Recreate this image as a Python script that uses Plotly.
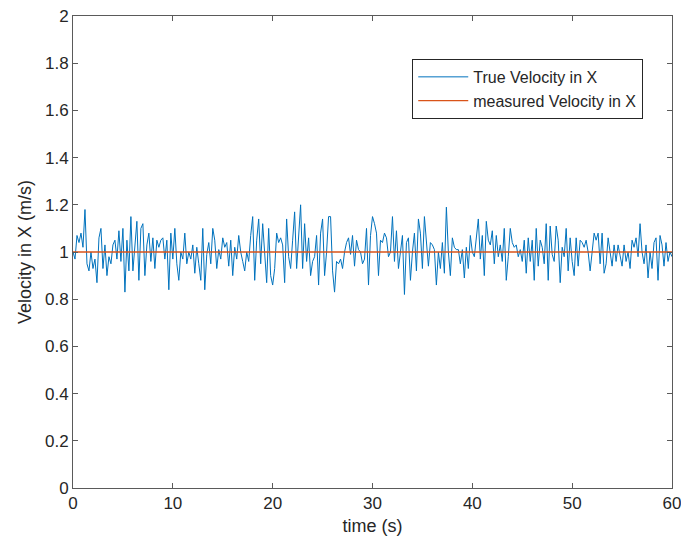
import numpy as np
import plotly.graph_objects as go

# True velocity samples (0.2 s spacing)
velocity = [
    1.00, 0.97, 1.07, 1.04, 1.08, 1.02, 1.18, 0.95, 0.92, 1.00,
    0.93, 0.97, 0.87, 1.06, 1.10, 0.93, 1.03, 0.90, 0.98, 0.95,
    1.03, 1.05, 0.97, 1.09, 0.96, 1.10, 0.83, 1.05, 0.92, 1.15,
    0.92, 1.03, 1.13, 0.88, 1.10, 1.12, 0.90, 1.03, 1.08, 0.96,
    1.06, 0.93, 1.05, 1.02, 1.05, 1.06, 0.97, 1.05, 0.84, 1.08,
    0.97,
    1.10, 0.95, 0.88, 1.00, 0.97, 1.08, 0.95, 1.00, 0.97, 1.03,
    0.91, 1.02, 0.95, 0.88, 1.10, 0.84, 0.99, 1.04, 0.95, 1.10,
    1.05, 0.93, 1.01, 0.97, 1.06, 1.02, 1.04, 0.94, 1.05, 0.90,
    1.02, 0.97, 1.07, 1.00, 0.96, 0.92, 1.00, 0.96, 1.07, 1.15,
    0.88, 1.05, 1.14, 0.95, 1.12, 1.00, 0.87, 1.10, 0.90, 0.86,
    0.93, 1.08, 1.04, 1.06, 1.03, 0.87, 1.14, 0.98, 0.93, 1.05,
    1.17, 0.93, 1.08, 1.20, 0.93, 1.12, 0.96, 1.06, 0.90, 0.96,
    0.98, 1.07, 0.86, 1.08, 1.14, 0.90, 1.00, 1.15, 1.15, 0.92,
    0.83, 0.96, 0.95, 0.97, 0.93, 1.00, 1.04, 1.06, 0.99, 1.07,
    0.94, 1.05, 1.01, 1.00, 0.95, 0.97, 1.10, 0.86, 1.07, 1.15,
    1.12, 1.08, 0.90, 1.05, 1.04, 1.08, 1.06, 0.98, 1.00, 1.15,
    0.96, 1.09, 0.93, 1.00, 1.07, 0.82, 1.04, 1.06, 0.88, 1.00,
    1.08, 0.92, 1.14, 1.08, 0.93, 1.15, 1.05, 0.94, 1.04, 1.03,
    1.01, 0.86, 1.00, 0.93, 1.04, 0.91, 1.19, 1.00, 0.90, 1.06,
    1.02, 1.01, 1.01, 0.95, 1.01, 0.89, 1.02, 0.93, 1.07, 1.00,
    0.98, 1.06, 1.14, 0.97, 1.07, 0.90, 1.13, 1.05, 1.03, 1.09,
    0.95, 1.07, 0.98, 1.03, 0.96, 1.10, 0.88, 0.98, 1.10, 1.04,
    1.02, 1.03, 0.98, 1.01, 0.96, 1.05, 0.91, 1.06, 0.96, 1.05,
    0.88, 1.10, 0.94, 1.05, 1.02, 0.95, 1.12, 0.88, 1.11, 0.99,
    0.96, 1.11, 1.05, 0.87, 1.02, 0.98, 1.10, 0.92, 1.06, 0.96,
    0.90, 1.06, 0.94, 1.05, 1.04, 1.02, 1.05, 1.00, 0.92, 1.00,
    1.08, 1.05, 1.08, 0.95, 1.08, 0.91, 0.95, 1.06, 0.99, 0.94,
    1.03, 0.96, 1.03, 0.99, 0.94, 1.03, 0.96, 1.00, 0.93, 1.05,
    1.02, 1.06, 0.98, 1.12, 1.00, 0.95, 1.03, 0.89, 1.00, 0.93,
    1.04, 1.06, 0.88, 1.07, 1.03, 0.94, 1.04, 0.96, 1.00, 0.98,
]
time = np.linspace(0, 60, len(velocity))
measured = [1.0] * len(velocity)

x_ticks = [0, 10, 20, 30, 40, 50, 60]
y_ticks = [0, 0.2, 0.4, 0.6, 0.8, 1, 1.2, 1.4, 1.6, 1.8, 2]

FONT = "Liberation Sans, Arial, sans-serif"
AX = "#5a5a5a"
TXT = "#262626"

fig = go.Figure()
fig.add_trace(go.Scatter(x=time, y=velocity, mode="lines", name="True Velocity in X",
                         line=dict(color="#0072BD", width=1)))
fig.add_trace(go.Scatter(x=time, y=measured, mode="lines", name="measured Velocity in X",
                         line=dict(color="#D95319", width=1.3)))

axis_common = dict(showgrid=False, zeroline=False, showline=True, linecolor=AX, linewidth=1,
                   mirror="ticks", ticks="inside", ticklen=5, tickcolor=AX,
                   ticklabeloverflow="allow", automargin=False,
                   tickfont=dict(family=FONT, size=17, color=TXT))
fig.update_xaxes(range=[0, 60], tickvals=x_ticks,
                 title=dict(text="time (s)", font=dict(family=FONT, size=18, color=TXT), standoff=6),
                 **axis_common)
fig.update_yaxes(range=[0, 2], tickvals=y_ticks,
                 title=dict(text="Velocity in X (m/s)", font=dict(family=FONT, size=18, color=TXT), standoff=8),
                 **axis_common)

fig.update_layout(
    width=681, height=546,
    margin=dict(l=73, r=9, t=16, b=58, autoexpand=False),
    paper_bgcolor="white", plot_bgcolor="white",
    showlegend=True,
    legend=dict(x=0.952, y=0.909, xanchor="right", yanchor="top",
                bgcolor="white", bordercolor="#262626", borderwidth=1,
                font=dict(family=FONT, size=16, color=TXT),
                itemwidth=50, tracegroupgap=0),
)

fig.write_html("out.html")
